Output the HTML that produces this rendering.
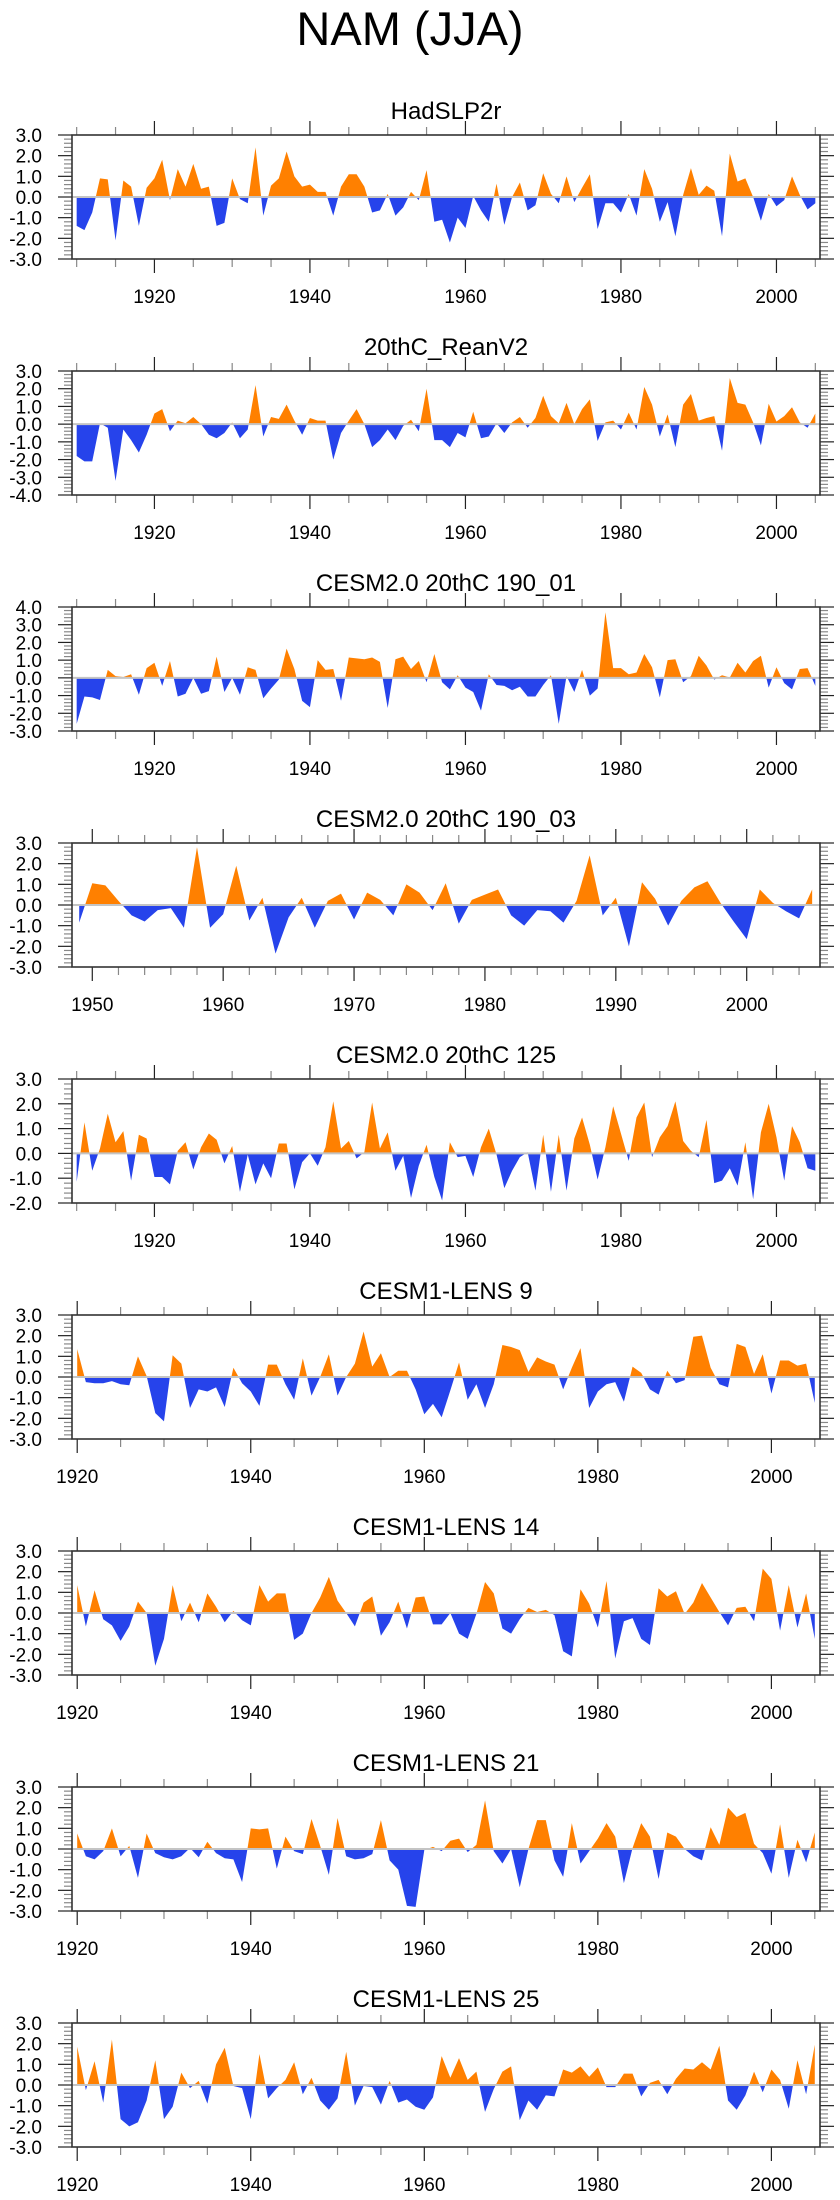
<!DOCTYPE html>
<html><head><meta charset="utf-8"><title>NAM (JJA)</title>
<style>
html,body{margin:0;padding:0;background:#fff;}
svg{display:block;font-family:"Liberation Sans",Arial,sans-serif;}
</style></head>
<body>
<svg id="chart" width="840" height="2200" viewBox="0 0 840 2200" xmlns="http://www.w3.org/2000/svg">
<text x="410" y="45" font-size="47" text-anchor="middle" fill="#000">NAM (JJA)</text>
</svg>
<script>
const titles = ["HadSLP2r","20thC_ReanV2","CESM2.0 20thC 190_01","CESM2.0 20thC 190_03","CESM2.0 20thC 125","CESM1-LENS 9","CESM1-LENS 14","CESM1-LENS 21","CESM1-LENS 25"];
const startYears = [1910,1910,1910,1949,1910,1920,1920,1920,1920];
const yMaxes = [3,3,4,3,3,3,3,3,3];
const yMins = [-3,-4,-3,-3,-2,-3,-3,-3,-3];
const hadslp2r = [-1.4,-1.6,-0.75,0.9,0.85,-2.1,0.8,0.5,-1.4,0.45,0.9,1.8,-0.15,1.35,0.5,1.6,0.4,0.5,-1.4,-1.25,0.9,-0.1,-0.3,2.4,-0.9,0.55,0.9,2.2,1.0,0.5,0.6,0.25,0.25,-0.9,0.5,1.1,1.1,0.5,-0.75,-0.65,0.15,-0.9,-0.5,0.25,-0.15,1.3,-1.2,-1.1,-2.2,-1.0,-1.5,0.05,-0.65,-1.2,0.65,-1.35,0,0.7,-0.65,-0.4,1.15,0.15,-0.3,1.0,-0.25,0.45,1.1,-1.55,-0.3,-0.3,-0.75,0.15,-0.9,1.35,0.4,-1.2,-0.25,-1.9,0.1,1.4,0.1,0.55,0.3,-1.9,2.1,0.75,0.9,0,-1.15,0.15,-0.45,-0.15,1.0,0.1,-0.6,-0.3];
const reanV2 = [-1.8,-2.1,-2.1,0.05,-0.2,-3.2,-0.3,-0.9,-1.6,-0.6,0.6,0.85,-0.4,0.2,0.05,0.4,0,-0.6,-0.8,-0.5,0.1,-0.8,-0.3,2.2,-0.7,0.4,0.3,1.1,0.2,-0.6,0.35,0.2,0.2,-2.0,-0.5,0.2,0.85,0,-1.3,-0.9,-0.3,-0.9,-0.1,0.25,-0.4,2.0,-0.9,-0.9,-1.3,-0.5,-0.75,0.7,-0.8,-0.7,0.05,-0.5,0.1,0.4,-0.2,0.35,1.6,0.45,0.05,1.2,0,0.85,1.4,-0.95,0.1,0.2,-0.3,0.65,-0.3,2.1,1.1,-0.7,0.55,-1.3,1.1,1.7,0.2,0.35,0.45,-1.5,2.6,1.2,1.1,0.1,-1.2,1.15,0.15,0.45,0.95,0.1,-0.2,0.6];
const cesm2_190_01 = [-2.6,-1.05,-1.1,-1.25,0.45,0.1,0.05,0.2,-0.95,0.55,0.85,-0.45,0.95,-1.05,-0.9,0,-0.9,-0.75,1.2,-0.8,0,-0.95,0.6,0.45,-1.15,-0.6,-0.1,1.65,0.5,-1.3,-1.65,1.0,0.45,0.5,-1.3,1.15,1.1,1.05,1.15,0.9,-1.7,1.05,1.2,0.5,0.95,-0.25,1.35,-0.25,-0.65,0.15,-0.55,-0.8,-1.85,0.2,-0.4,-0.45,-0.7,-0.5,-1.05,-1.05,-0.4,0.15,-2.6,0.1,-0.8,0.45,-1.0,-0.6,3.7,0.55,0.55,0.2,0.3,1.35,0.6,-1.1,1.0,1.05,-0.25,0.1,1.25,0.7,-0.1,0.15,0.02,0.85,0.3,0.95,1.25,-0.55,0.6,-0.3,-0.65,0.5,0.55,-0.45];
const cesm2_190_03 = [-0.85,1.05,0.95,0.2,-0.5,-0.8,-0.25,-0.15,-1.1,2.8,-1.1,-0.45,1.9,-0.75,0.35,-2.35,-0.6,0.35,-1.1,0.2,0.55,-0.7,0.6,0.25,-0.5,1.0,0.6,-0.25,1.05,-0.9,0.25,0.5,0.75,-0.5,-1.0,-0.25,-0.3,-0.85,0.2,2.4,-0.5,0.35,-2.0,1.1,0.3,-1.0,0.2,0.85,1.15,0.1,-0.8,-1.65,0.75,0.1,-0.3,-0.65,0.75];
const cesm2_125 = [-1.15,1.25,-0.7,0.2,1.6,0.45,0.9,-1.1,0.75,0.6,-0.95,-0.95,-1.25,0.1,0.45,-0.65,0.25,0.8,0.55,-0.4,0.3,-1.55,-0.05,-1.25,-0.4,-1.0,0.4,0.4,-1.45,-0.35,0.0,-0.5,0.25,2.1,0.2,0.5,-0.2,0.05,2.05,0.2,0.85,-0.7,-0.1,-1.8,-0.5,0.35,-0.95,-1.9,0.45,-0.15,-0.1,-0.95,0.25,1.0,-0.05,-1.4,-0.7,-0.15,0.05,-1.5,0.75,-1.55,0.75,-1.5,0.6,1.45,0.35,-1.05,0.25,1.9,0.8,-0.3,1.45,2.05,-0.15,0.65,1.1,2.1,0.5,0.1,-0.15,1.35,-1.2,-1.1,-0.6,-1.3,0.45,-1.85,0.85,2.0,0.65,-1.1,1.1,0.45,-0.6,-0.7];
const lens9 = [1.35,-0.25,-0.3,-0.3,-0.2,-0.35,-0.4,1.0,0.05,-1.75,-2.15,1.05,0.65,-1.5,-0.6,-0.7,-0.5,-1.45,0.45,-0.3,-0.7,-1.4,0.6,0.6,-0.35,-1.1,0.9,-0.9,0,1.1,-0.9,0,0.65,2.2,0.5,1.15,0,0.3,0.3,-0.6,-1.8,-1.3,-1.95,-0.65,0.7,-1.1,-0.35,-1.5,-0.35,1.55,1.45,1.3,0.25,0.95,0.75,0.6,-0.6,0.45,1.4,-1.5,-0.7,-0.35,-0.25,-1.2,0.5,0.2,-0.6,-0.85,0.3,-0.3,-0.15,1.95,2.0,0.45,-0.35,-0.5,1.6,1.45,0.15,1.1,-0.8,0.8,0.8,0.55,0.65,-1.25];
const lens14 = [1.35,-0.65,1.1,-0.3,-0.6,-1.35,-0.65,0.55,0,-2.55,-1.25,1.35,-0.4,0.5,-0.45,0.95,0.3,-0.45,0.1,-0.35,-0.6,1.35,0.55,0.95,0.95,-1.3,-1.0,0,0.75,1.75,0.6,0,-0.65,0.5,0.8,-1.1,-0.45,0.55,-0.75,0.75,0.8,-0.55,-0.55,0,-1.0,-1.25,-0.05,1.5,0.95,-0.75,-1.0,-0.3,0.25,0.05,0.15,-0.1,-1.85,-2.1,1.15,0.45,-0.7,1.55,-2.2,-0.4,-0.25,-1.25,-1.55,1.2,0.8,1.05,-0.05,0.5,1.45,0.75,0.05,-0.6,0.25,0.3,-0.4,2.15,1.65,-0.85,1.35,-0.7,0.95,-1.25];
const lens21 = [0.75,-0.35,-0.5,-0.1,1.0,-0.35,0.15,-1.4,0.75,-0.2,-0.4,-0.5,-0.35,0.05,-0.4,0.35,-0.2,-0.45,-0.5,-1.6,1.0,0.95,1.0,-0.95,0.6,-0.1,-0.25,1.45,0.15,-1.25,1.5,-0.35,-0.5,-0.45,-0.25,1.4,-0.55,-1.0,-2.75,-2.8,-0.05,0.1,-0.1,0.4,0.5,-0.15,0.2,2.35,-0.1,-0.7,0,-1.85,0,1.4,1.4,-0.55,-1.35,1.25,-0.7,-0.1,0.5,1.25,0.6,-1.65,0.05,1.25,0.6,-1.45,0.8,0.6,0,-0.35,-0.55,1.05,0.2,2.0,1.55,1.75,0.25,-0.2,-1.2,1.2,-1.4,0.45,-0.65,0.8];
const lens25 = [1.85,-0.25,1.15,-0.85,2.2,-1.65,-2.0,-1.8,-0.75,1.2,-1.65,-1.05,0.6,-0.15,0.2,-0.9,1.0,1.8,-0.05,-0.15,-1.65,1.5,-0.65,-0.15,0.25,1.1,-0.45,0.35,-0.75,-1.2,-0.65,1.6,-1.0,-0.05,-0.1,-0.95,0.2,-0.85,-0.7,-1.05,-1.2,-0.6,1.4,0.35,1.3,0.25,0.65,-1.3,-0.2,0.65,0.9,-1.7,-0.75,-1.2,-0.5,-0.55,0.75,0.6,0.9,0.4,0.85,-0.1,-0.1,0.55,0.55,-0.55,0.1,0.25,-0.45,0.3,0.8,0.75,1.1,0.75,1.9,-0.75,-1.2,-0.5,0.65,-0.35,0.75,0.25,-1.15,1.2,-0.45,1.95];
const seriesList = [hadslp2r, reanV2, cesm2_190_01, cesm2_190_03, cesm2_125, lens9, lens14, lens21, lens25];
const yearLabels = [[1920,1940,1960,1980,2000],[1920,1940,1960,1980,2000],[1920,1940,1960,1980,2000],[1950,1960,1970,1980,1990,2000],[1920,1940,1960,1980,2000],[1920,1940,1960,1980,2000],[1920,1940,1960,1980,2000],[1920,1940,1960,1980,2000],[1920,1940,1960,1980,2000]];

const NS = "http://www.w3.org/2000/svg";
const svg = document.getElementById('chart');
function mk(tag, attrs, parent) {
  const e = document.createElementNS(NS, tag);
  for (const k in attrs) e.setAttribute(k, attrs[k]);
  (parent || svg).appendChild(e);
  return e;
}
const L = 72, R = 820, H = 124;
const ORANGE = "#ff8000", BLUE = "#2643eb";

seriesList.forEach(function(vals, p) {
  const top = 135 + p * 236, bot = top + H;
  const y0 = startYears[p];
  const pad = (p === 3) ? 0.55 : 0.6;
  const xMin = y0 - pad, xMax = y0 + vals.length - 1 + 0.6;
  const yMax = yMaxes[p], yMin = yMins[p];
  const xs = function(yr) { return L + (yr - xMin) / (xMax - xMin) * (R - L); };
  const ys = function(v) { return top + (yMax - v) / (yMax - yMin) * H; };

  const g = mk('g', {});
  
  

  const t = mk('text', {x: (L + R) / 2, y: top - 16, 'font-size': 24, 'text-anchor': 'middle', fill: '#000'}, g);
  
  
  t.textContent = titles[p];

  const zy = ys(0);
  const cidA = 'ca' + p, cidB = 'cb' + p;
  const defs = mk('defs', {}, g);
  const ca = mk('clipPath', {id: cidA}, defs);
  mk('rect', {x: L, y: top, width: R - L, height: zy - top}, ca);
  const cb = mk('clipPath', {id: cidB}, defs);
  mk('rect', {x: L, y: zy, width: R - L, height: bot - zy}, cb);

  let d = 'M' + xs(y0).toFixed(2) + ',' + zy.toFixed(2);
  vals.forEach(function(v, i) { d += ' L' + xs(y0 + i).toFixed(2) + ',' + ys(v).toFixed(2); });
  d += ' L' + xs(y0 + vals.length - 1).toFixed(2) + ',' + zy.toFixed(2) + ' Z';
  const pa = mk('path', {d: d, fill: ORANGE, 'clip-path': 'url(#' + cidA + ')'}, g);
  
  
  const pb = mk('path', {d: d, fill: BLUE, 'clip-path': 'url(#' + cidB + ')'}, g);
  
  

  const zl = mk('line', {x1: L, x2: R, y1: zy, y2: zy, stroke: '#c4c4c4', 'stroke-width': 2}, g);
  
  

  // y ticks
  for (let k = Math.round(yMin * 5); k <= Math.round(yMax * 5); k++) {
    const v = k / 5, yy = ys(v);
    const major = (k % 5 === 0);
    const len = major ? 14 : 8;
    const col = major ? '#222' : '#888';
    mk('line', {x1: L - len, x2: L, y1: yy, y2: yy, stroke: col, 'stroke-width': 1.2}, g);
    mk('line', {x1: R, x2: R + len, y1: yy, y2: yy, stroke: col, 'stroke-width': 1.2}, g);
    if (major) {
      const yl = mk('text', {x: 42, y: yy + 7, 'font-size': 19, 'text-anchor': 'end', fill: '#000'}, g);
      
      
      yl.textContent = v.toFixed(1);
    }
  }
  // x ticks
  const labs = yearLabels[p];
  const majorStep = labs[1] - labs[0];
  const minorStep = (majorStep === 10) ? 2 : 5;
  for (let yr = Math.ceil(xMin / minorStep) * minorStep; yr <= xMax; yr += minorStep) {
    const xx = xs(yr);
    const major = (yr % majorStep === 0);
    const len = major ? 14 : 8;
    const col = major ? '#222' : '#888';
    mk('line', {x1: xx, x2: xx, y1: top - len, y2: top, stroke: col, 'stroke-width': 1.2}, g);
    mk('line', {x1: xx, x2: xx, y1: bot, y2: bot + len, stroke: col, 'stroke-width': 1.2}, g);
  }
  labs.forEach(function(yr) {
    const xl = mk('text', {x: xs(yr), y: bot + 44, 'font-size': 19, 'text-anchor': 'middle', fill: '#000'}, g);
    
    
    xl.textContent = String(yr);
  });

  const fr = mk('rect', {x: L, y: top, width: R - L, height: H, fill: 'none', stroke: '#333', 'stroke-width': 1.6}, g);
  
  
});
</script>
</body></html>
